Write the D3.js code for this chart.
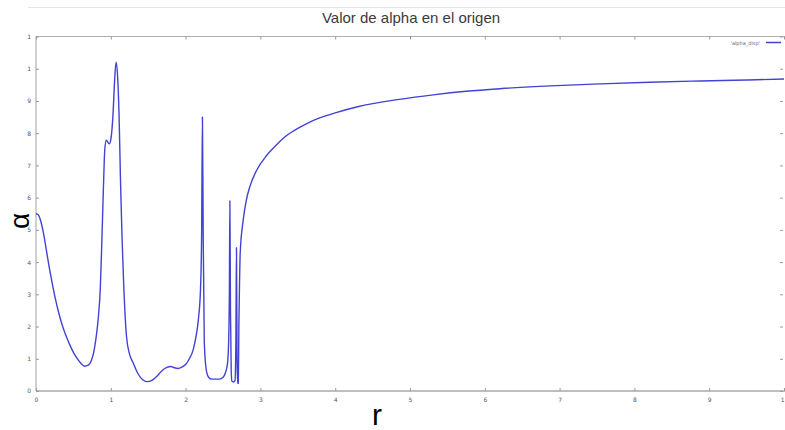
<!DOCTYPE html>
<html>
<head>
<meta charset="utf-8">
<script src="https://cdn.jsdelivr.net/npm/d3@7"></script>
<style>
  html, body { margin: 0; padding: 0; background: #fff; }
  svg { display: block; }
</style>
</head>
<body>
<div id="chart"></div>
<script>
// Data
const rValues = [
  0.00, 0.03, 0.06, 0.10, 0.14, 0.18, 0.22, 0.26, 0.30, 0.35, 0.40, 0.45, 0.50, 0.55, 0.60, 0.65,
  0.70, 0.74, 0.77, 0.80,
  0.83, 0.86, 0.88, 0.90, 0.92, 0.94, 0.96, 0.98, 1.00, 1.03, 1.05, 1.07, 1.09, 1.11, 1.13,
  1.15, 1.17, 1.21, 1.25, 1.30, 1.36, 1.43, 1.48, 1.55, 1.61, 1.68, 1.75, 1.80, 1.85, 1.90,
  1.95, 2.00, 2.05, 2.10, 2.14, 2.17, 2.20, 2.215, 2.225, 2.235, 2.25, 2.28, 2.31, 2.35, 2.45,
  2.50, 2.53, 2.56, 2.575, 2.585, 2.592, 2.60, 2.61, 2.62, 2.64, 2.66, 2.672, 2.680, 2.688, 2.695,
  2.705, 2.712, 2.72, 2.73, 2.77, 2.81, 2.86, 2.95, 3.08, 3.20, 3.31, 3.45, 3.62, 3.80, 4.00, 4.30,
  4.86, 5.31, 5.75, 6.20, 6.80, 7.54, 8.20, 8.88, 9.50, 10.00
];
const alphaValues = [
  5.50, 5.47, 5.30, 4.90, 4.35, 3.80, 3.30, 2.85, 2.46, 2.05, 1.72, 1.44, 1.20, 1.01, 0.86, 0.77,
  0.80, 0.95, 1.18, 1.60,
  2.20, 3.20, 4.60, 6.20, 7.50, 7.78, 7.72, 7.67, 7.80, 8.60, 9.60, 10.20, 9.80, 8.60, 6.50,
  4.80, 3.45, 1.69, 1.15, 0.87, 0.55, 0.34, 0.29, 0.33, 0.44, 0.62, 0.73, 0.76, 0.72, 0.70,
  0.74, 0.82, 1.00, 1.27, 1.70, 2.20, 3.20, 5.00, 8.50, 5.00, 1.50, 0.60, 0.42, 0.37, 0.37,
  0.42, 0.55, 0.85, 1.50, 3.00, 5.90, 2.50, 0.60, 0.30, 0.28, 0.32, 1.50, 4.45, 1.00, 0.24,
  0.24, 2.00, 3.20, 4.28, 5.30, 5.90, 6.35, 6.85, 7.30, 7.60, 7.85, 8.08, 8.30, 8.48, 8.63, 8.82,
  9.05, 9.19, 9.30, 9.38, 9.46, 9.53, 9.58, 9.62, 9.65, 9.68
];

const xTicks = [0, 1, 2, 3, 4, 5, 6, 7, 8, 9, 10];
const xTickLabels = ['0', '1', '2', '3', '4', '5', '6', '7', '8', '9', '1'];
const yTicks = [0, 1, 2, 3, 4, 5, 6, 7, 8, 9, 10, 11];
const yTickLabels = ['0', '1', '2', '3', '4', '5', '6', '7', '8', '9', '1', '1'];

const width = 785;
const height = 430;
const lineColor = '#4242d4';

const svg = d3.select('#chart').append('svg')
    .attr('width', width)
    .attr('height', height);

// Scales
const x = d3.scaleLinear().domain([0, 10]).range([36, 784]);
const y = d3.scaleLinear().domain([0, 11]).range([391, 36.5]);

// Thin rule above title
svg.append('line')
    .attr('x1', 28).attr('x2', width)
    .attr('y1', 7.5).attr('y2', 7.5)
    .style('stroke', '#e4e4e4')
    .style('stroke-width', 1);

// Title
svg.append('text')
    .attr('x', 411)
    .attr('y', 23)
    .attr('text-anchor', 'middle')
    .style('font-family', 'Liberation Sans, Arial, sans-serif')
    .style('font-size', '15px')
    .style('fill', '#3a3a3a')
    .text('Valor de alpha en el origen');

// Frame
svg.append('line')
    .attr('x1', x(0)).attr('x2', width)
    .attr('y1', y(11)).attr('y2', y(11))
    .style('stroke', '#b0b0b0').style('stroke-width', 1);
svg.append('line')
    .attr('x1', x(0)).attr('x2', x(0))
    .attr('y1', y(11)).attr('y2', y(0))
    .style('stroke', '#b0b0b0').style('stroke-width', 1.2);

// Bottom axis
const xAxis = svg.append('g')
    .attr('transform', `translate(0, ${y(0)})`)
    .call(d3.axisBottom(x)
        .tickValues(xTicks)
        .tickFormat((d, i) => xTickLabels[i])
        .tickSizeInner(-3)
        .tickSizeOuter(0)
        .tickPadding(7));
xAxis.select('.domain')
    .attr('d', `M${x(0)},0H${width}`)
    .style('stroke', '#a8a8a8')
    .style('stroke-width', 1.6);
xAxis.selectAll('.tick line').style('stroke', '#999');
xAxis.selectAll('text')
    .style('font-family', 'DejaVu Sans, sans-serif')
    .style('font-size', '6px')
    .style('fill', '#555');
// last label sits at the right edge
xAxis.selectAll('.tick text').filter(d => d === 10).attr('text-anchor', 'end');

// Top mirror ticks
svg.append('g')
    .attr('transform', `translate(0, ${y(11)})`)
    .call(d3.axisTop(x).tickValues(xTicks).tickFormat('').tickSizeInner(-3).tickSizeOuter(0))
    .call(g => g.select('.domain').remove())
    .selectAll('.tick line').style('stroke', '#999');

// Left axis
const yAxis = svg.append('g')
    .attr('transform', `translate(${x(0)}, 0)`)
    .call(d3.axisLeft(y)
        .tickValues(yTicks)
        .tickFormat((d, i) => yTickLabels[i])
        .tickSizeInner(-3)
        .tickSizeOuter(0)
        .tickPadding(5));
yAxis.select('.domain').remove();
yAxis.selectAll('.tick line').style('stroke', '#999');
yAxis.selectAll('text')
    .style('font-family', 'DejaVu Sans, sans-serif')
    .style('font-size', '6px')
    .style('fill', '#555');

// Right mirror ticks
svg.append('g')
    .attr('transform', `translate(${x(10) - 1}, 0)`)
    .call(d3.axisRight(y).tickValues(yTicks).tickFormat('').tickSizeInner(-3).tickSizeOuter(0))
    .call(g => g.select('.domain').remove())
    .selectAll('.tick line').style('stroke', '#999');

// Curve
const points = rValues.map((r, i) => [r, alphaValues[i]]);
const line = d3.line()
    .x(d => x(d[0]))
    .y(d => y(d[1]))
    .curve(d3.curveMonotoneX);

svg.append('path')
    .datum(points)
    .attr('d', line)
    .style('fill', 'none')
    .style('stroke', lineColor)
    .style('stroke-width', 1.4)
    .style('stroke-linejoin', 'round');

// Legend
svg.append('text')
    .attr('x', 760)
    .attr('y', 44.5)
    .attr('text-anchor', 'end')
    .style('font-family', 'DejaVu Sans, sans-serif')
    .style('font-size', '5px')
    .style('fill', '#666')
    .text("'alpha_disp'");
svg.append('line')
    .attr('x1', 766).attr('x2', 781)
    .attr('y1', 42.5).attr('y2', 42.5)
    .style('stroke', lineColor)
    .style('stroke-width', 1.5);

// Axis titles
svg.append('text')
    .attr('transform', 'translate(29, 221) rotate(-90)')
    .attr('text-anchor', 'middle')
    .style('font-family', 'Liberation Sans, Arial, sans-serif')
    .style('font-size', '28px')
    .style('fill', '#000')
    .text('α');

svg.append('text')
    .attr('x', 377)
    .attr('y', 425)
    .attr('text-anchor', 'middle')
    .style('font-family', 'Liberation Sans, Arial, sans-serif')
    .style('font-size', '30px')
    .style('fill', '#000')
    .text('r');
</script>
</body>
</html>
